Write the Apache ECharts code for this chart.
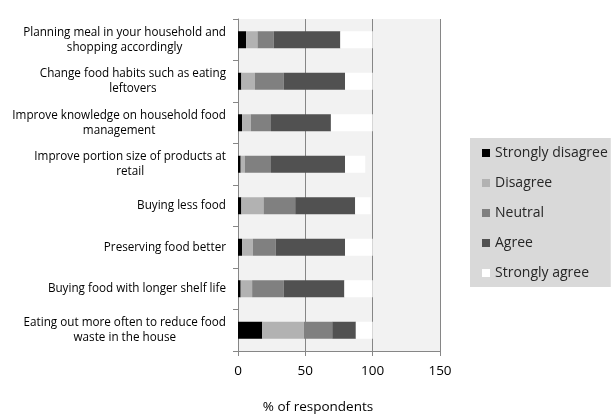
<!DOCTYPE html>
<html>
<head>
<meta charset="utf-8">
<script src="https://cdn.jsdelivr.net/npm/echarts@6/dist/echarts.min.js"></script>
<style>html,body{margin:0;padding:0;background:#fff}#c{width:611px;height:419px}</style>
</head>
<body>
<div id="c"></div>
<script>
var categories = [
  "Planning meal in your household and\nshopping accordingly",
  "Change food habits such as eating\nleftovers",
  "Improve knowledge on household food\nmanagement",
  "Improve portion size of products at\nretail",
  "Buying less food",
  "Preserving food better",
  "Buying food with longer shelf life",
  "Eating out more often to reduce food\nwaste in the house"
];
var seriesNames = ["Strongly disagree", "Disagree", "Neutral", "Agree", "Strongly agree"];
var stronglyDisagree = [6, 2.5, 3, 2, 2.5, 3, 2, 18];
var disagree = [8.5, 10, 6.5, 3, 16.5, 8, 8.5, 31];
var neutral = [12, 21.5, 15, 19.5, 23.5, 17, 23.5, 21];
var agree = [49.5, 45.5, 44.5, 55, 44.5, 51.5, 45, 17.5];
var stronglyAgree = [24, 20.5, 31, 15, 11.5, 20.5, 21, 12.5];
var xTicks = [0, 50, 100, 150];

var colors = ["#000000", "#b2b2b2", "#808080", "#515151", "#ffffff"];
var values = [stronglyDisagree, disagree, neutral, agree, stronglyAgree];

var chart = echarts.init(document.getElementById('c'), null, {renderer: 'canvas'});
var font = '"Open Sans"';
chart.setOption({
  animation: false,
  backgroundColor: '#ffffff',
  grid: {left: 238, top: 19, right: 171, bottom: 65, show: true, backgroundColor: '#f2f2f2', borderWidth: 0, containLabel: false},
  legend: {
    orient: 'vertical', left: 470, top: 138,
    backgroundColor: '#d9d9d9', padding: [8, 3, 7, 12],
    itemWidth: 8, itemHeight: 8, itemGap: 16, icon: 'rect',
    textStyle: {fontFamily: font, fontSize: 14, color: '#262626', lineHeight: 14},
    data: seriesNames
  },
  xAxis: {
    type: 'value', min: xTicks[0], max: xTicks[xTicks.length - 1], interval: 50,
    name: '% of respondents', nameLocation: 'middle', nameGap: 49,
    nameTextStyle: {fontFamily: font, fontSize: 13.5, color: '#000', padding: [0, 42, 0, 0]},
    axisLine: {show: true, lineStyle: {color: '#868686', width: 1}},
    axisTick: {show: true, length: 5, lineStyle: {color: '#868686'}},
    axisLabel: {fontFamily: font, fontSize: 13.5, color: '#000', margin: 13},
    splitLine: {show: true, lineStyle: {color: '#868686', width: 1}}
  },
  yAxis: {
    type: 'category', inverse: true, data: categories,
    axisLine: {show: true, lineStyle: {color: '#868686', width: 1}},
    axisTick: {show: true, length: 5, lineStyle: {color: '#868686'}},
    axisLabel: {
      margin: 12, color: '#000', fontFamily: font, fontSize: 11.7, lineHeight: 15, align: 'right',
      formatter: function (v) { return v.split('\n').map(function (l) { return '{c|' + l + '}'; }).join('\n'); },
      rich: {c: {align: 'center', fontFamily: font, fontSize: 11.7, lineHeight: 15, color: '#000'}}
    },
    splitLine: {show: false}
  },
  series: seriesNames.map(function (n, i) {
    return {
      name: n, type: 'bar', stack: 'total', data: values[i], barWidth: 17,
      itemStyle: {color: colors[i]}
    };
  })
});
</script>
</body>
</html>
